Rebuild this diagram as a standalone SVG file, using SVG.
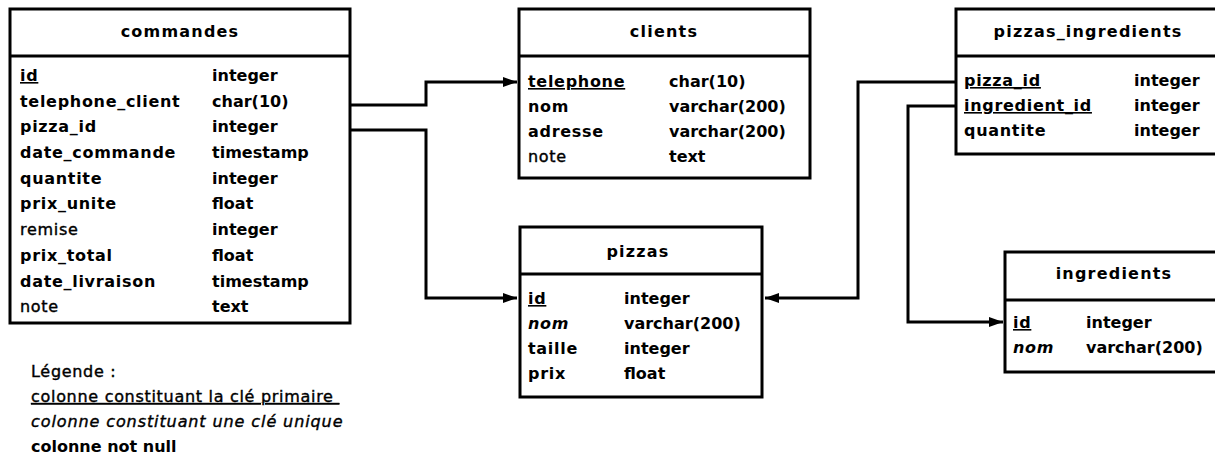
<svg xmlns="http://www.w3.org/2000/svg" width="1215" height="457" viewBox="0 0 1215 457">
<style>
text{font-family:"DejaVu Sans","Liberation Sans",sans-serif;font-size:16px;fill:#000}
.b{font-weight:bold}
.n{font-weight:bold;letter-spacing:0.7px}
.r{letter-spacing:0.7px;stroke:#000;stroke-width:0.4}
.h{font-weight:bold;text-anchor:middle;letter-spacing:1.2px}
.u{text-decoration:underline}
.i{font-style:italic}
.box{fill:#fff;stroke:#000;stroke-width:3}
.sep{stroke:#000;stroke-width:3}
.con{fill:none;stroke:#000;stroke-width:3}
</style>
<defs>
<marker id="arr" viewBox="0 0 14 10" refX="14" refY="5" markerWidth="14" markerHeight="10" markerUnits="userSpaceOnUse" orient="auto">
<path d="M0,0 L14,5 L0,10 Z" fill="#000"/>
</marker>
</defs>
<g id="connectors">
<path class="con" d="M350,105 H426 V82 H517" marker-end="url(#arr)"/>
<path class="con" d="M350,130 H426 V298 H517" marker-end="url(#arr)"/>
<path class="con" d="M955,82 H858 V298 H765" marker-end="url(#arr)"/>
<path class="con" d="M955,106 H908 V322 H1003" marker-end="url(#arr)"/>
</g>
<g id="commandes">
<rect class="box" x="10" y="9" width="340" height="314"/>
<line class="sep" x1="10" y1="56" x2="350" y2="56"/>
<text class="h" x="180" y="37">commandes</text>
<text class="n u" x="20" y="81">id</text><text class="b" x="212" y="81">integer</text>
<text class="n" x="20" y="107">telephone_client</text><text class="b" x="212" y="107">char(10)</text>
<text class="n" x="20" y="132">pizza_id</text><text class="b" x="212" y="132">integer</text>
<text class="n" x="20" y="158">date_commande</text><text class="b" x="212" y="158">timestamp</text>
<text class="n" x="20" y="184">quantite</text><text class="b" x="212" y="184">integer</text>
<text class="n" x="20" y="209">prix_unite</text><text class="b" x="212" y="209">float</text>
<text class="r" x="20" y="235">remise</text><text class="b" x="212" y="235">integer</text>
<text class="n" x="20" y="261">prix_total</text><text class="b" x="212" y="261">float</text>
<text class="n" x="20" y="287">date_livraison</text><text class="b" x="212" y="287">timestamp</text>
<text class="r" x="20" y="312">note</text><text class="b" x="212" y="312">text</text>
</g>
<g id="clients">
<rect class="box" x="519" y="9" width="291" height="169"/>
<line class="sep" x1="519" y1="56" x2="810" y2="56"/>
<text class="h" x="664" y="37">clients</text>
<text class="n u" x="528" y="87">telephone</text><text class="b" x="669" y="87">char(10)</text>
<text class="n" x="528" y="112">nom</text><text class="b" x="669" y="112">varchar(200)</text>
<text class="n" x="528" y="137">adresse</text><text class="b" x="669" y="137">varchar(200)</text>
<text class="r" x="528" y="162">note</text><text class="b" x="669" y="162">text</text>
</g>
<g id="pizzas">
<rect class="box" x="520" y="227" width="242" height="170"/>
<line class="sep" x1="520" y1="274" x2="762" y2="274"/>
<text class="h" x="638" y="257">pizzas</text>
<text class="n u" x="528" y="304">id</text><text class="b" x="624" y="304">integer</text>
<text class="n i" x="528" y="329">nom</text><text class="b" x="624" y="329">varchar(200)</text>
<text class="n" x="528" y="354">taille</text><text class="b" x="624" y="354">integer</text>
<text class="n" x="528" y="379">prix</text><text class="b" x="624" y="379">float</text>
</g>
<g id="pizzas_ingredients">
<rect class="box" x="956" y="9" width="270" height="145"/>
<line class="sep" x1="956" y1="56" x2="1226" y2="56"/>
<text class="h" x="1088" y="37">pizzas_ingredients</text>
<text class="n u" x="964" y="86">pizza_id</text><text class="b" x="1134" y="86">integer</text>
<text class="n u" x="964" y="111">ingredient_id</text><text class="b" x="1134" y="111">integer</text>
<text class="n" x="964" y="136">quantite</text><text class="b" x="1134" y="136">integer</text>
</g>
<g id="ingredients">
<rect class="box" x="1005" y="252" width="220" height="120"/>
<line class="sep" x1="1005" y1="300" x2="1225" y2="300"/>
<text class="h" x="1114" y="279">ingredients</text>
<text class="n u" x="1013" y="328">id</text><text class="b" x="1086" y="328">integer</text>
<text class="n i" x="1013" y="353">nom</text><text class="b" x="1086" y="353">varchar(200)</text>
</g>
<g id="legende">
<text class="r" x="31" y="377">Légende :</text>
<text class="r u" x="31" y="402" xml:space="preserve">colonne constituant la clé primaire </text>
<text class="r i" x="31" y="427" style="letter-spacing:0.9px">colonne constituant une clé unique</text>
<text class="b" x="31" y="452">colonne not null</text>
</g>
</svg>
